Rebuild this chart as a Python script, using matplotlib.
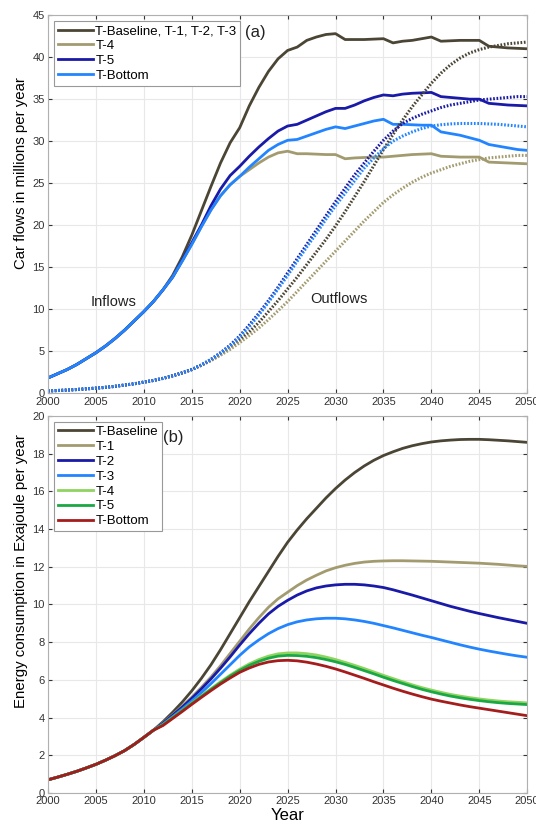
import numpy as np
import matplotlib
matplotlib.use('Agg')
import matplotlib.pyplot as plt

plt.rcParams['font.family'] = ['Liberation Sans', 'DejaVu Sans']

years = np.arange(2000, 2051)

# ---- (a) car flows, millions per year ----
inflow_common = [1.8, 2.3, 2.8, 3.4, 4.1, 4.8, 5.6, 6.5, 7.5, 8.6, 9.7, 10.9, 12.3]  # 2000-2012
inflow_baseline = [14.0, 16.2, 18.8, 21.7, 24.6, 27.4, 29.8, 31.6, 34.2, 36.4, 38.3, 39.8, 40.8,
                   41.2, 42.0, 42.4, 42.7, 42.8, 42.1, 42.1, 42.1, 42.15, 42.2, 41.7, 41.9, 42.0,
                   42.2, 42.4, 41.9, 41.95, 42.0, 42.0, 42.0, 41.3, 41.2, 41.1, 41.05, 41.0]
inflow_t4 = [13.8, 15.7, 17.7, 19.8, 21.8, 23.5, 24.8, 25.8, 26.6, 27.4, 28.1, 28.6, 28.8,
             28.5, 28.5, 28.45, 28.4, 28.4, 27.9, 28.0, 28.05, 28.1, 28.1, 28.2, 28.3, 28.4,
             28.45, 28.5, 28.2, 28.15, 28.1, 28.1, 28.1, 27.5, 27.45, 27.4, 27.35, 27.3]
inflow_t5 = [13.8, 15.8, 17.9, 20.0, 22.3, 24.3, 25.9, 27.0, 28.2, 29.3, 30.3, 31.2, 31.8,
             32.0, 32.5, 33.0, 33.5, 33.9, 33.9, 34.3, 34.8, 35.2, 35.5, 35.4, 35.6, 35.7,
             35.75, 35.8, 35.3, 35.2, 35.1, 35.0, 35.0, 34.5, 34.4, 34.3, 34.25, 34.2]
inflow_bottom = [13.8, 15.7, 17.7, 19.8, 21.8, 23.5, 24.8, 25.8, 26.9, 27.9, 28.9, 29.6, 30.1,
                 30.2, 30.6, 31.0, 31.4, 31.7, 31.5, 31.8, 32.1, 32.4, 32.6, 32.0, 32.0, 31.95,
                 31.9, 31.9, 31.1, 30.9, 30.7, 30.4, 30.1, 29.6, 29.4, 29.2, 29.0, 28.9]

outflow_common = [0.25, 0.3, 0.35, 0.42, 0.5, 0.58, 0.68, 0.8, 0.95, 1.1, 1.3, 1.5, 1.75,
                  2.05, 2.4, 2.8]  # 2000-2015
outflow_baseline = [3.3, 3.9, 4.6, 5.4, 6.3, 7.3, 8.4, 9.7, 11.0, 12.4, 13.8, 15.3, 16.8, 18.3,
                    19.9, 21.6, 23.4, 25.2, 27.1, 29.0, 30.8, 32.5, 34.1, 35.5, 36.9, 38.1, 39.1,
                    39.9, 40.5, 40.9, 41.2, 41.4, 41.6, 41.7, 41.8]
outflow_t4 = [3.3, 3.85, 4.5, 5.2, 6.0, 6.85, 7.75, 8.75, 9.8, 10.9, 12.1, 13.3, 14.5, 15.7,
              16.9, 18.1, 19.3, 20.5, 21.6, 22.7, 23.6, 24.4, 25.1, 25.7, 26.2, 26.6, 27.0,
              27.3, 27.6, 27.8, 28.0, 28.1, 28.2, 28.3, 28.3]
outflow_t5 = [3.35, 4.0, 4.8, 5.7, 6.8, 8.1, 9.5, 11.0, 12.6, 14.3, 16.0, 17.7, 19.4, 21.1,
              22.8, 24.4, 26.0, 27.4, 28.8, 30.1, 31.2, 32.1, 32.7, 33.2, 33.6, 34.0, 34.3,
              34.5, 34.7, 34.9, 35.0, 35.1, 35.2, 35.3, 35.3]
outflow_bottom = [3.35, 4.0, 4.75, 5.6, 6.7, 7.9, 9.3, 10.8, 12.4, 14.0, 15.7, 17.4, 19.0, 20.7,
                  22.3, 23.8, 25.3, 26.8, 28.0, 29.1, 30.0, 30.6, 31.1, 31.5, 31.8, 31.95, 32.05,
                  32.1, 32.1, 32.1, 32.05, 32.0, 31.9, 31.8, 31.7]

# ---- (b) energy consumption, EJ per year ----
energy_common = [0.70, 0.84, 0.99, 1.15, 1.33, 1.52, 1.74, 1.98, 2.25, 2.58, 2.95, 3.33]  # 2000-2011
energy_baseline = [3.78, 4.28, 4.82, 5.42, 6.08, 6.8, 7.6, 8.45, 9.3, 10.15, 10.95, 11.75, 12.55,
                   13.3, 13.95, 14.55, 15.1, 15.65, 16.15, 16.6, 17.0, 17.35, 17.65, 17.9, 18.1,
                   18.28, 18.42, 18.53, 18.62, 18.68, 18.72, 18.75, 18.76, 18.76, 18.74, 18.71,
                   18.68, 18.64, 18.6]
energy_t1 = [3.72, 4.15, 4.6, 5.08, 5.6, 6.15, 6.75, 7.4, 8.05, 8.7, 9.3, 9.85, 10.3, 10.65,
             11.0, 11.3, 11.55, 11.78, 11.95, 12.08, 12.18, 12.25, 12.29, 12.31, 12.32, 12.32,
             12.31, 12.3, 12.29, 12.27, 12.25, 12.23, 12.21, 12.19, 12.16, 12.13, 12.09, 12.05, 12.02]
energy_t2 = [3.7, 4.12, 4.55, 5.02, 5.52, 6.05, 6.62, 7.22, 7.85, 8.45, 9.0, 9.5, 9.9, 10.22,
             10.5, 10.72, 10.88, 10.98, 11.04, 11.07, 11.07, 11.04, 10.98, 10.9, 10.78, 10.64,
             10.5, 10.35, 10.2, 10.05, 9.9, 9.77, 9.64, 9.52, 9.41, 9.3, 9.2, 9.1, 9.0]
energy_t3 = [3.65, 4.05, 4.45, 4.88, 5.32, 5.8, 6.3, 6.8, 7.3, 7.75, 8.12, 8.45, 8.72, 8.93,
             9.08, 9.18, 9.24, 9.27, 9.27, 9.24, 9.18, 9.1, 9.0, 8.88, 8.76, 8.63, 8.5, 8.37,
             8.25, 8.12, 7.99, 7.86, 7.74, 7.63, 7.53, 7.44, 7.35, 7.27, 7.2]
energy_t4 = [3.62, 4.0, 4.38, 4.77, 5.15, 5.53, 5.9, 6.25, 6.57, 6.85, 7.08, 7.26, 7.38, 7.43,
             7.43, 7.39, 7.32, 7.21, 7.08, 6.93, 6.77, 6.6, 6.42, 6.24, 6.07, 5.9, 5.74, 5.59,
             5.46, 5.34, 5.23, 5.14, 5.06, 4.99, 4.93, 4.88, 4.84, 4.81, 4.78]
energy_t5 = [3.62, 3.99, 4.37, 4.75, 5.12, 5.49, 5.85, 6.2, 6.5, 6.77, 6.98, 7.15, 7.26, 7.3,
             7.29, 7.25, 7.18, 7.08, 6.96, 6.82, 6.66, 6.49, 6.32, 6.14, 5.97, 5.81, 5.65, 5.5,
             5.37, 5.25, 5.14, 5.05, 4.97, 4.9, 4.84, 4.79, 4.75, 4.72, 4.69]
energy_bottom = [3.58, 3.95, 4.32, 4.7, 5.07, 5.43, 5.78, 6.1, 6.4, 6.63, 6.82, 6.95, 7.02, 7.04,
                 7.01, 6.94, 6.84, 6.72, 6.58, 6.42, 6.25, 6.08, 5.9, 5.73, 5.56, 5.4, 5.25, 5.11,
                 4.98, 4.87, 4.77, 4.67, 4.58, 4.5, 4.42, 4.34, 4.26, 4.18, 4.1]

c_base = '#4b4535'
c_tan = '#a39b70'
c_navy = '#1a1aa8'
c_blue = '#2285ff'
c_lgreen = '#90d460'
c_green = '#1aa844'
c_red = '#a51c1c'

fig = plt.figure(figsize=(5.36, 8.25), dpi=100)
ax1 = fig.add_axes([0.0896, 0.5236, 0.894, 0.458])
ax2 = fig.add_axes([0.0896, 0.0388, 0.894, 0.457])

dots = (0, (0.55, 0.55))
lw = 2.0

# panel (a)
ax1.plot(years, inflow_common + inflow_baseline, color=c_base, lw=lw, label='T-Baseline, T-1, T-2, T-3')
ax1.plot(years, inflow_common + inflow_t4, color=c_tan, lw=lw, label='T-4')
ax1.plot(years, inflow_common + inflow_t5, color=c_navy, lw=lw, label='T-5')
ax1.plot(years, inflow_common + inflow_bottom, color=c_blue, lw=lw, label='T-Bottom')
ax1.plot(years, outflow_common + outflow_baseline, color=c_base, lw=2.2, ls=dots)
ax1.plot(years, outflow_common + outflow_t4, color=c_tan, lw=2.2, ls=dots)
ax1.plot(years, outflow_common + outflow_t5, color=c_navy, lw=2.2, ls=dots)
ax1.plot(years, outflow_common + outflow_bottom, color=c_blue, lw=2.2, ls=dots)

ax1.text(2004.4, 10.9, 'Inflows', fontsize=10.5, va='center', color='#222222')
ax1.text(2027.4, 11.2, 'Outflows', fontsize=10.5, va='center', color='#222222')
ax1.text(2020.6, 42.9, '(a)', fontsize=12, va='center', color='#222222')

ax1.set_ylim(0, 45)
ax1.set_yticks(np.arange(0, 46, 5))
ax1.set_ylabel('Car flows in millions per year', fontsize=10.8)
ax1.yaxis.set_label_coords(-0.042, 0.582)

leg_kw = dict(loc='upper left', bbox_to_anchor=(0.005, 0.995), fontsize=9.5, handlelength=2.6,
              handletextpad=0.2, labelspacing=0.2, borderpad=0.3, borderaxespad=0.3,
              fancybox=False, framealpha=1)
leg1 = ax1.legend(**leg_kw)

# panel (b)
ax2.plot(years, energy_common + energy_baseline, color=c_base, lw=lw, label='T-Baseline')
ax2.plot(years, energy_common + energy_t1, color=c_tan, lw=lw, label='T-1')
ax2.plot(years, energy_common + energy_t2, color=c_navy, lw=lw, label='T-2')
ax2.plot(years, energy_common + energy_t3, color=c_blue, lw=lw, label='T-3')
ax2.plot(years, energy_common + energy_t4, color=c_lgreen, lw=lw, label='T-4')
ax2.plot(years, energy_common + energy_t5, color=c_green, lw=lw, label='T-5')
ax2.plot(years, energy_common + energy_bottom, color=c_red, lw=lw, label='T-Bottom')
ax2.text(2012.0, 18.88, '(b)', fontsize=12, va='center', color='#222222')

ax2.set_ylim(0, 20)
ax2.set_yticks(np.arange(0, 21, 2))
ax2.set_ylabel('Energy consumption in Exajoule per year', fontsize=10.8)
ax2.yaxis.set_label_coords(-0.042, 0.589)
ax2.set_xlabel('Year', fontsize=12, labelpad=1)
leg2 = ax2.legend(**leg_kw)

for ax, leg in ((ax1, leg1), (ax2, leg2)):
    ax.set_xlim(2000, 2050)
    ax.set_xticks(np.arange(2000, 2051, 5))
    ax.grid(True, color='#e8e8e8', lw=0.8)
    ax.set_axisbelow(True)
    ax.tick_params(direction='in', length=3, labelsize=8, colors='#333333',
                   top=True, right=True, pad=2.5)
    for s in ax.spines.values():
        s.set_color('#b0b0b0')
    leg.get_frame().set_edgecolor('#999999')
    leg.get_frame().set_linewidth(0.8)

plt.savefig('out.png', dpi=100)
